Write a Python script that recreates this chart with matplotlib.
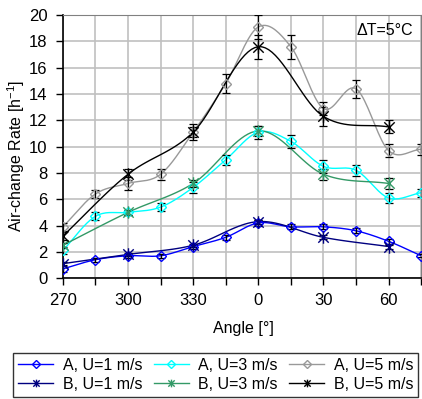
import numpy as np
import matplotlib
matplotlib.use("Agg")
import matplotlib.pyplot as plt
from matplotlib.path import Path

plt.rcParams['font.family'] = ['Liberation Sans', 'DejaVu Sans']

# angles (degrees) measured for series A (every 15) and B (every 30)
angles_A = [270, 285, 300, 315, 330, 345, 0, 15, 30, 45, 60, 75]
angles_B = [270, 300, 330, 0, 30, 60]
tick_labels = ["270", "300", "330", "0", "30", "60"]

A_U1 = [0.7, 1.4, 1.7, 1.7, 2.4, 3.1, 4.2, 3.9, 3.9, 3.6, 2.8, 1.7]
A_U1_err = [0.2, 0.15, 0.15, 0.15, 0.15, 0.2, 0.2, 0.2, 0.2, 0.2, 0.2, 0.1]
A_U3 = [2.1, 4.7, 5.0, 5.4, 6.9, 9.0, 11.1, 10.4, 8.5, 8.2, 6.1, 6.5]
A_U3_err = [0.3, 0.3, 0.2, 0.3, 0.4, 0.4, 0.5, 0.5, 0.5, 0.4, 0.4, 0.3]
A_U5 = [3.9, 6.4, 7.2, 7.9, 11.1, 14.8, 19.1, 17.6, 12.9, 14.4, 9.7, 9.8]
A_U5_err = [0.3, 0.3, 0.5, 0.4, 0.4, 0.7, 0.9, 0.9, 0.5, 0.7, 0.5, 0.4]
B_U1 = [1.1, 1.8, 2.5, 4.3, 3.1, 2.4]
B_U1_err = [0.1, 0.1, 0.1, 0.15, 0.15, 0.15]
B_U3 = [2.5, 5.0, 7.2, 11.2, 7.9, 7.2]
B_U3_err = [0.2, 0.2, 0.3, 0.4, 0.4, 0.4]
B_U5 = [3.2, 7.9, 11.1, 17.6, 12.3, 11.5]
B_U5_err = [0.3, 0.4, 0.6, 0.9, 0.7, 0.5]

# Excel-style star marker: an X with a vertical bar
STAR = Path([(-1, -1), (1, 1), (-1, 1), (1, -1), (0, -1.2), (0, 1.2)],
            [Path.MOVETO, Path.LINETO, Path.MOVETO, Path.LINETO, Path.MOVETO, Path.LINETO])


def angle_pos(angles):
    # position along the axis: 270 -> 0, each 15 degrees -> 1
    return np.array([((a - 270) % 360) / 15.0 for a in angles])


def smooth(x, y, n=20):
    x = np.asarray(x, float)
    y = np.asarray(y, float)
    px = np.concatenate([[2 * x[0] - x[1]], x, [2 * x[-1] - x[-2]]])
    py = np.concatenate([[2 * y[0] - y[1]], y, [2 * y[-1] - y[-2]]])
    xs, ys = [], []
    t = np.linspace(0, 1, n)
    for i in range(1, len(px) - 2):
        p0, p1, p2, p3 = [np.array([px[j], py[j]]) for j in range(i - 1, i + 3)]
        c1 = p1 + (p2 - p0) / 6.0
        c2 = p2 - (p3 - p1) / 6.0
        pts = ((1 - t) ** 3)[:, None] * p1 + (3 * (1 - t) ** 2 * t)[:, None] * c1 \
            + (3 * (1 - t) * t ** 2)[:, None] * c2 + (t ** 3)[:, None] * p2
        xs.extend(pts[:, 0])
        ys.extend(pts[:, 1])
    return np.array(xs), np.array(ys)


fig = plt.figure(figsize=(4.22, 3.99), dpi=100)
ax = fig.add_axes([0.149, 0.303, 0.849, 0.659])

series = [
    ("A, U=1 m/s", angles_A, A_U1, A_U1_err, "#0000ff", "D"),
    ("B, U=1 m/s", angles_B, B_U1, B_U1_err, "#000080", STAR),
    ("A, U=3 m/s", angles_A, A_U3, A_U3_err, "#00ffff", "D"),
    ("B, U=3 m/s", angles_B, B_U3, B_U3_err, "#339966", STAR),
    ("A, U=5 m/s", angles_A, A_U5, A_U5_err, "#999999", "D"),
    ("B, U=5 m/s", angles_B, B_U5, B_U5_err, "#000000", STAR),
]

handles = []
for label, ang, vals, err, col, mk in series:
    x = angle_pos(ang)
    sx, sy = smooth(x, vals)
    ax.plot(sx, sy, color=col, lw=1.0, zorder=3)
    ax.errorbar(x, vals, yerr=err, fmt='none', ecolor='black', elinewidth=0.9,
                capsize=3, capthick=0.9, zorder=4)
    is_d = isinstance(mk, str)
    if is_d:
        ax.plot(x, vals, linestyle='none', marker='D', markersize=5.5,
                markerfacecolor='none', markeredgecolor=col, markeredgewidth=1.0, zorder=5)
    else:
        ax.plot(x, vals, linestyle='none', marker=mk, markersize=9,
                markeredgecolor=col, markeredgewidth=1.0, zorder=5)
    h, = ax.plot([], [], color=col, lw=1.0, marker=mk,
                 markersize=4 if is_d else 5.5,
                 markerfacecolor='none', markeredgecolor=col, markeredgewidth=1.0)
    handles.append((h, label))

ax.set_xlim(0, 11)
ax.set_ylim(0, 20)
ax.set_xticks(np.arange(0, 12))
ax.set_xticklabels([tick_labels[i // 2] if i % 2 == 0 else "" for i in range(12)])
ax.set_yticks(np.arange(0, 21, 2))
ax.grid(True, color='#c0c0c0', lw=1.2, zorder=0)
ax.set_axisbelow(True)
ax.tick_params(axis='both', direction='out', labelsize=12, length=5, width=1, pad=6)
for s in ['top', 'right']:
    ax.spines[s].set_color('#808080')
for s in ['left', 'bottom']:
    ax.spines[s].set_color('black')
    ax.spines[s].set_linewidth(1.2)

fig.text(243 / 422, 1 - 328 / 399, "Angle [°]", fontsize=11.5, ha='center', va='center')
fig.text(16 / 422, 1 - 156 / 399, "Air-change Rate [h$^{\\mathregular{-1}}$]", fontsize=11.5,
         rotation=90, ha='center', va='center')
ax.text(0.978, 0.943, "ΔT=5°C", transform=ax.transAxes, ha='right', va='center', fontsize=11.5)

leg = fig.legend([h for h, _ in handles], [l for _, l in handles], ncol=3,
                 loc='lower center', bbox_to_anchor=(0.511, -0.002), fontsize=11.5,
                 frameon=True, fancybox=False, edgecolor='black',
                 handlelength=2.2, columnspacing=0.7, handletextpad=0.6,
                 borderpad=0.3, labelspacing=0.25, borderaxespad=0.2)
leg.get_frame().set_linewidth(1.0)

fig.savefig("out.png", dpi=100)
